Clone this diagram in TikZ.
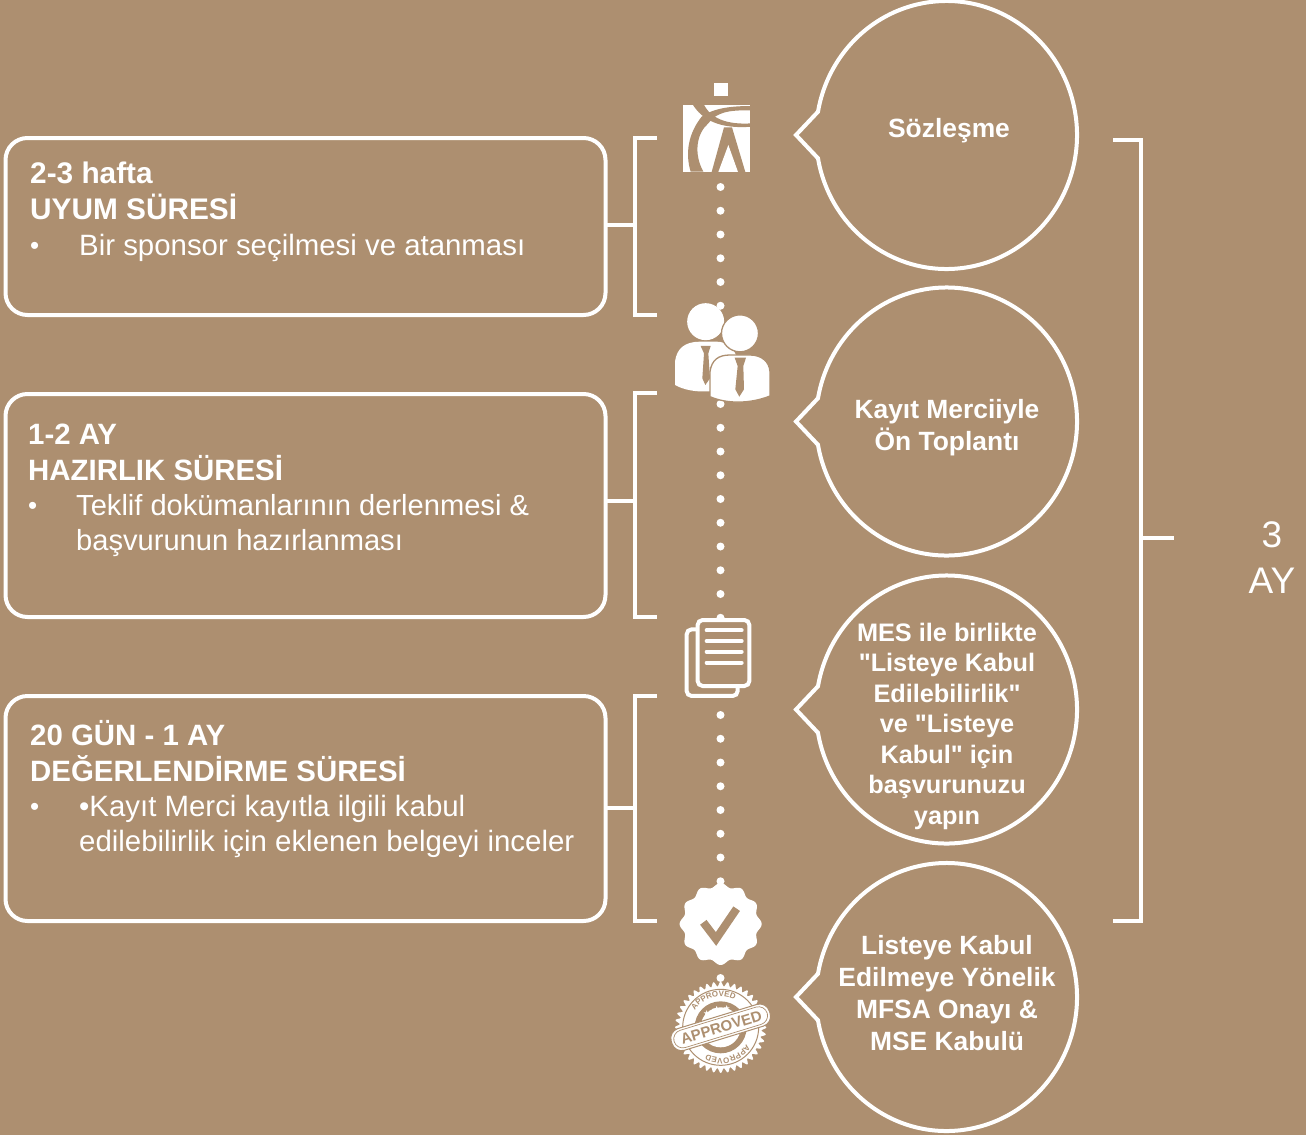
\documentclass[tikz,border=0pt]{standalone}
\usepackage{fontspec}
\setmainfont{Liberation Sans}[Ligatures=TeXOff]
\usetikzlibrary{decorations.text,shapes.geometric}
\definecolor{bgc}{HTML}{AD8F70}
\tikzset{
  wl/.style={draw=white,line width=4pt},
  boxn/.style={wl,rounded corners=22pt,inner sep=0pt,outer sep=0pt,minimum width=600pt},
  bubble/.style={wl,line join=miter},
  brk/.style={wl,line join=miter},
  headt/.style={text=white,font=\fontsize{29.8}{35.5}\selectfont\bfseries,align=left,anchor=base west,inner sep=0pt},
  heads/.style={headt,font=\fontsize{29.4}{35.5}\selectfont\bfseries},
  bodyt/.style={text=white,font=\fontsize{29.4}{35}\selectfont,align=left,anchor=base west,inner sep=0pt},
  bodys/.style={bodyt,font=\fontsize{29.1}{35}\selectfont},
  bult/.style={text=white,font=\fontsize{26}{26}\selectfont,anchor=base west,inner sep=0pt},
  bubt/.style={text=white,font=\fontsize{26.4}{31.7}\selectfont\bfseries,align=center,inner sep=0pt},
  bubs/.style={text=white,font=\fontsize{25.3}{30.5}\selectfont\bfseries,align=center,inner sep=0pt},
  bigt/.style={text=white,font=\fontsize{37}{46}\selectfont,align=center,inner sep=0pt},
  dotline/.style={draw=white,line width=8pt,line cap=round,dash pattern=on 0pt off 23.75pt},
}
\begin{document}
\begin{tikzpicture}[x=1pt,y=-1pt]
\useasboundingbox (0,0) rectangle (1306,1135);
\fill[bgc] (0,0) rectangle (1306,1135);

% dotted timeline
\coordinate (t1) at (720.5,187); \coordinate (t2) at (720.5,307);
\coordinate (t3) at (720.5,404); \coordinate (t4) at (720.5,618);
\coordinate (t5) at (720.5,715); \coordinate (t6) at (720.5,883);
\coordinate (t7) at (720.5,978);
\draw[dotline] (t1) -- (t2);
\draw[dotline] (t3) -- (t4);
\draw[dotline] (t5) -- (t6);
\fill[white] (t7) circle (4pt);

% left boxes
\node[boxn,minimum height=177pt] (box1) at (305.5,226.5) {};
\node[boxn,minimum height=223pt] (box2) at (305.5,505.5) {};
\node[boxn,minimum height=225pt] (box3) at (305.5,808.5) {};

\node[headt] (h1) at (30,219) {2-3 hafta\\UYUM SÜRESİ};
\node[bult] (u1) at (30,254) {•};
\node[bodyt] (b1) at (79,255) {Bir sponsor seçilmesi ve atanması};
\node[heads] (h2) at (28,480) {1-2 AY\\HAZIRLIK SÜRESİ};
\node[bult] (u2) at (28,514) {•};
\node[bodys] (b2) at (76,550) {Teklif dokümanlarının derlenmesi \&\\başvurunun hazırlanması};
\node[heads] (h3) at (30,781) {20 GÜN - 1 AY\\DEĞERLENDİRME SÜRESİ};
\node[bult] (u3) at (30,815) {•};
\node[bodyt] (b3) at (79,851) {•Kayıt Merci kayıtla ilgili kabul\\edilebilirlik için eklenen belgeyi inceler};

% left brackets
\coordinate (k1a) at (657,138); \coordinate (k1b) at (657,315); \coordinate (k1m) at (635,225);
\coordinate (k2a) at (657,393); \coordinate (k2b) at (657,617); \coordinate (k2m) at (635,501);
\coordinate (k3a) at (657,696); \coordinate (k3b) at (657,921); \coordinate (k3m) at (635,808);
\draw[brk] (k1a) -- (k1a -| k1m) -- (k1b -| k1m) -- (k1b);
\draw[brk] (k1m -| box1.east) -- (k1m);
\draw[brk] (k2a) -- (k2a -| k2m) -- (k2b -| k2m) -- (k2b);
\draw[brk] (k2m -| box2.east) -- (k2m);
\draw[brk] (k3a) -- (k3a -| k3m) -- (k3b -| k3m) -- (k3b);
\draw[brk] (k3m -| box3.east) -- (k3m);

% right bracket
\coordinate (r1) at (1113,140); \coordinate (r2) at (1113,921);
\coordinate (rm) at (1141,538); \coordinate (re) at (1174,538);
\draw[brk] (r1) -- (r1 -| rm) -- (r2 -| rm) -- (r2);
\draw[brk] (rm) -- (re);
\node[bigt] (ay) at (1272,558) {3\\AY};

% bubbles
\foreach \cy in {135,421.5,709.5,997}{
  \draw[bubble] (946.5,\cy) ++({130.5*cos(170)},{134*sin(170)}) arc[start angle=170,end angle=-170,x radius=130.5,y radius=134] -- (796,\cy) -- cycle;
}
\node[bubt] (s1) at (949,131) {Sözleşme};
\node[bubt] (s2) at (947,428) {Kayıt Merciiyle\\Ön Toplantı};
\node[bubs] (s3) at (947,726) {MES ile birlikte\\"Listeye Kabul\\Edilebilirlik"\\ve "Listeye\\Kabul" için\\başvurunuzu\\yapın};
\node[bubt] (s4) at (947,993) {Listeye Kabul\\Edilmeye Yönelik\\MFSA Onayı \&\\MSE Kabulü};

% logo icon
\begin{scope}[shift={(660,70)},x=0.3333pt,y=-0.3333pt]
  \fill[white] (163,40) rectangle (203,77);
  \fill[white] (70,105) rectangle (270,305);
  \fill[bgc] (96,100) .. controls (125,150) and (180,178) .. (275,170) -- (275,160) .. controls (200,165) and (150,145) .. (130,100) -- cycle;
  \fill[bgc] (275,108) -- (275,121) .. controls (210,120) and (170,125) .. (145,160) .. controls (110,190) and (100,250) .. (130,305) -- (92,305) .. controls (75,250) and (85,190) .. (125,140) .. controls (160,115) and (210,108) .. (275,108) -- cycle;
  \fill[bgc] (192,172) -- (216,172) -- (256,306) -- (155,306) -- cycle;
  \fill[white] (205,225) -- (234,306) -- (175,306) -- cycle;
\end{scope}

% people icon
\begin{scope}[shift={(660,290)},x=0.3333pt,y=-0.3333pt]
  \fill[white] (137,95) circle (18.5pt);
  \fill[white] (45,285) -- (45,215) .. controls (50,175) and (75,155) .. (120,155) -- (170,155) .. controls (200,155) and (225,175) .. (235,215) -- (235,290) .. controls (170,305) and (100,315) .. (45,285) -- cycle;
  \fill[bgc] (122,168) -- (152,168) -- (145,190) -- (150,265) -- (136,285) -- (127,265) -- (132,190) -- cycle;
  \filldraw[fill=white,draw=bgc,line width=1.3pt] (240,130) circle (18.5pt);
  \filldraw[fill=white,draw=bgc,line width=1.3pt] (150,320) -- (150,245) .. controls (155,210) and (175,195) .. (210,195) -- (270,195) .. controls (305,195) and (328,215) .. (330,245) -- (330,318) .. controls (270,342) and (200,342) .. (150,320) -- cycle;
  \fill[bgc] (224,203) -- (258,203) -- (250,228) -- (252,298) -- (238,320) -- (226,298) -- (233,228) -- cycle;
\end{scope}

% documents icon
\begin{scope}[shift={(660,600)},x=0.3333pt,y=-0.3333pt]
  \draw[white,line width=4pt,rounded corners=5pt] (80,88) rectangle (233,288);
  \filldraw[fill=bgc,draw=white,line width=4pt,rounded corners=5pt] (113,60) rectangle (268,258);
  \foreach \ly in {91,123,155,188}
    \draw[white,line width=4pt,line cap=round] (140,\ly) -- (245,\ly);
\end{scope}

% check badge
\begin{scope}[shift={(650,870)},x=0.3333pt,y=-0.3333pt]
  \fill[white] plot[domain=0:360,samples=240,smooth] ({212+(117+6*cos(12*\x))*cos(\x)},{162+(117+6*cos(12*\x))*sin(\x)}) -- cycle;
  \draw[bgc,line width=8pt,line join=miter] (160,157) -- (198,207) -- (260,116);
\end{scope}

% approved stamp
\begin{scope}[shift={(650,870)},x=0.3333pt,y=-0.3333pt]
  \fill[white] plot[domain=0:360,samples=361] ({212+(130+7*cos(40*\x))*cos(\x)},{472+(130+7*cos(40*\x))*sin(\x)}) -- cycle;
  \draw[bgc,line width=1pt] (212,472) circle (38pt);
  \fill[bgc] (212,472) circle (26pt);
  \fill[white] (212,472) circle (20pt);
  \foreach \sx/\sy/\sr in {170/430/3.2,200/420/4.2,230/415/3.2}
    \node[star,star points=5,star point ratio=2.4,fill=white,inner sep=0pt,minimum size=2*\sr pt] (st\sx) at (\sx,\sy) {};
  \begin{scope}[rotate around={17:(212,472)}]
    \filldraw[fill=white,draw=bgc,line width=1pt,rounded corners=10pt] (58,438) rectangle (366,506);
    \draw[bgc,line width=.7pt,rounded corners=9pt] (66,445) rectangle (358,499);
  \end{scope}
  \node[text=bgc,font=\fontsize{15}{15}\selectfont\bfseries,rotate=17,inner sep=0pt] (ap) at (214,472) {APPROVED};
  \coordinate (a1) at ({212+92*cos(-165)},{472+92*sin(-165)});
  \coordinate (a2) at ({212+92*cos(15)},{472+92*sin(15)});
  \path[decorate,decoration={text along path,text align=center,text={|\fontsize{8}{8}\selectfont\bfseries\color{bgc}|APPROVED}}]
     (a1) arc[start angle=-165,end angle=-45,radius=92];
  \path[decorate,decoration={text along path,text align=center,text={|\fontsize{8}{8}\selectfont\bfseries\color{bgc}|APPROVED}}]
     (a2) arc[start angle=15,end angle=135,radius=92];
\end{scope}
\end{tikzpicture}
\end{document}
